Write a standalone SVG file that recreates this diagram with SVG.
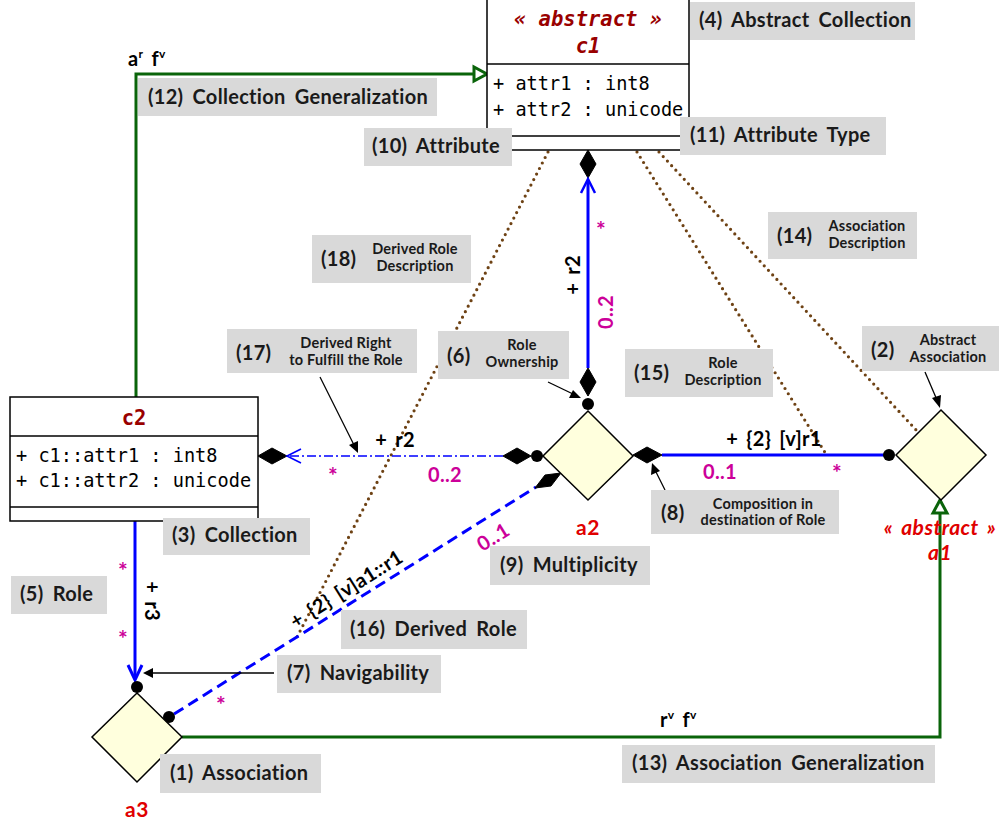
<svg xmlns="http://www.w3.org/2000/svg" width="1001" height="825" viewBox="0 0 1001 825">
<style>
.box{fill:#fff;stroke:#000;stroke-width:1.5}
.dia{fill:#ffffdd;stroke:#000;stroke-width:1.5}
.comp{fill:#000;stroke:#000;stroke-width:1}
.dot{fill:#000}
.blue{fill:none;stroke:#0000ff;stroke-width:3}
.green{fill:none;stroke:#0a640a;stroke-width:3}
.tri{fill:#fff;stroke:#0a640a;stroke-width:3}
.brown{fill:none;stroke:#6e4214;stroke-width:3.2;stroke-dasharray:0 6.2;stroke-linecap:round}
.ptr{fill:none;stroke:#000;stroke-width:1.3}
.cb{fill:#d9d9d9}
.lbl{font-family:Lato,"DejaVu Sans",sans-serif;font-weight:bold;font-size:20px;letter-spacing:0.3px;word-spacing:4px;fill:#1a1a1a}
.sm{font-family:Lato,"DejaVu Sans",sans-serif;font-weight:bold;font-size:14.5px;letter-spacing:0.2px;fill:#1a1a1a;text-anchor:middle}
.role{font-family:Lato,"DejaVu Sans",sans-serif;font-weight:bold;font-size:20px;letter-spacing:0.3px;word-spacing:3px;fill:#000}
.mul{font-family:Lato,"DejaVu Sans",sans-serif;font-weight:bold;font-size:20px;letter-spacing:0.3px;fill:#cc0099}
.ast{font-family:Lato,"DejaVu Sans",sans-serif;font-weight:bold;font-size:23px;fill:#cc0099;text-anchor:middle}
.mono{font-family:"DejaVu Sans Mono","Liberation Mono",monospace;font-size:18.6px;fill:#000}
.cname{font-family:"DejaVu Sans Mono","Liberation Mono",monospace;font-weight:bold;font-size:20.5px;fill:#990000;text-anchor:middle}
.aname{font-family:Lato,"DejaVu Sans",sans-serif;font-weight:bold;font-size:21px;letter-spacing:0.5px;word-spacing:3px;fill:#e00000;text-anchor:middle}
</style>

<!-- connectors -->
<g id="connectors">
  <!-- generalizations -->
  <path class="green" d="M136,397 V74 H474"/>
  <polygon class="tri" points="487,74 474,67 474,81"/>
  <path class="green" d="M182,737 H940 V513"/>
  <polygon class="tri" points="940,500 933,513 947,513"/>
  <text class="role" x="128" y="66">a<tspan font-size="12" dy="-8">r</tspan><tspan dy="8"> f</tspan><tspan font-size="12" dy="-8">v</tspan></text>
  <text class="role" x="660" y="727">r<tspan font-size="12" dy="-8">v</tspan><tspan dy="8"> f</tspan><tspan font-size="12" dy="-8">v</tspan></text>

  <!-- dotted descriptions -->
  <line class="brown" x1="548" y1="152" x2="297" y2="637"/>
  <line class="brown" x1="637" y1="152" x2="826" y2="454"/>
  <line class="brown" x1="659" y1="152" x2="918" y2="432"/>

  <!-- r2 vertical (a2 -> c1) -->
  <line class="blue" x1="588" y1="368" x2="588" y2="180"/>
  <polygon class="comp" points="588,150 596,164 588,178 580,164"/>
  <polyline fill="none" stroke="#0000ff" stroke-width="2.5" points="581,193 588,179 595,193"/>
  <polygon class="comp" points="588,368 596,382 588,396 580,382"/>
  <circle class="dot" cx="588" cy="404" r="6"/>
  <text class="ast" x="601" y="238">*</text>
  <text class="role" transform="translate(580,275) rotate(-90)" text-anchor="middle">+ r2</text>
  <text class="mul" transform="translate(613,312) rotate(-90)" text-anchor="middle">0..2</text>

  <!-- r1 horizontal (a2 -> a1) -->
  <line class="blue" x1="662" y1="455" x2="889" y2="455"/>
  <polygon class="comp" points="633,455 647,447 662,455 647,463"/>
  <circle class="dot" cx="889" cy="455" r="6"/>
  <text class="role" x="774" y="446" text-anchor="middle">+ {2} [v]r1</text>
  <text class="mul" x="720" y="479" text-anchor="middle">0..1</text>
  <text class="ast" x="837" y="481">*</text>

  <!-- derived right (dash-dot a2 -> c2) -->
  <line x1="503" y1="456" x2="288" y2="456" stroke="#0000ff" stroke-width="1.6" stroke-dasharray="9 3 2 3"/>
  <polygon class="comp" points="503,456 517,448 531,456 517,464"/>
  <circle class="dot" cx="537" cy="456" r="6"/>
  <polygon class="comp" points="258,456 272,448 287,456 272,464"/>
  <polyline fill="none" stroke="#0000ff" stroke-width="1.6" points="301,449 287,456 301,463"/>
  <text class="role" x="395" y="447" text-anchor="middle">+ r2</text>
  <text class="ast" x="333" y="484">*</text>
  <text class="mul" x="445" y="482" text-anchor="middle">0..2</text>

  <!-- derived role (dashed a3 -> a2) -->
  <line x1="174" y1="714" x2="536" y2="487" stroke="#0000ff" stroke-width="3" stroke-dasharray="11 6"/>
  <polygon class="comp" points="561,473 551,486 535,488 545,475"/>
  <circle class="dot" cx="169" cy="717" r="6"/>
  <text class="role" transform="translate(350,595) rotate(-32)" text-anchor="middle" font-size="19">+ {2} [v]a1::r1</text>
  <text class="mul" transform="translate(497,543) rotate(-32)" text-anchor="middle">0..1</text>
  <text class="ast" x="221" y="713">*</text>

  <!-- r3 vertical (c2 -> a3) -->
  <line class="blue" x1="135" y1="521" x2="135" y2="678"/>
  <polyline fill="none" stroke="#0000ff" stroke-width="3" points="128,665 135,680 142,665"/>
  <circle class="dot" cx="137" cy="687" r="6"/>
  <text class="ast" x="123" y="579">*</text>
  <text class="ast" x="123" y="647">*</text>
  <text class="role" transform="translate(145,601) rotate(90)" text-anchor="middle">+ r3</text>

  <!-- callout pointers -->
  <line class="ptr" x1="925" y1="372" x2="937" y2="400"/>
  <polygon class="dot" points="940,408 932,398 941,395"/>
  <line class="ptr" x1="665" y1="490" x2="655" y2="470"/>
  <polygon class="dot" points="652,463 651,475 660,471"/>
  <line class="ptr" x1="548" y1="382" x2="573" y2="394"/>
  <polygon class="dot" points="581,398 569,398 573,390"/>
  <line class="ptr" x1="320" y1="377" x2="354" y2="445"/>
  <polygon class="dot" points="358,453 349,445 358,441"/>
  <line class="ptr" x1="274" y1="673" x2="152" y2="673"/>
  <polygon class="dot" points="143,673 153,668 153,678"/>
</g>

<!-- nodes -->
<g id="c1">
  <rect class="box" x="487" y="-1" width="202" height="151"/>
  <line stroke="#000" stroke-width="1.5" x1="487" y1="64" x2="689" y2="64"/>
  <line stroke="#000" stroke-width="1.5" x1="487" y1="136" x2="689" y2="136"/>
  <text class="cname" x="588" y="26" font-style="italic">« abstract »</text>
  <text class="cname" x="588" y="53" font-style="italic">c1</text>
  <text class="mono" x="493" y="90">+ attr1 : int8</text>
  <text class="mono" x="493" y="116">+ attr2 : unicode</text>
</g>
<g id="c2">
  <rect class="box" x="10" y="397" width="248" height="124"/>
  <line stroke="#000" stroke-width="1.5" x1="10" y1="436" x2="258" y2="436"/>
  <line stroke="#000" stroke-width="1.5" x1="10" y1="507" x2="258" y2="507"/>
  <text class="cname" x="134" y="425">c2</text>
  <text class="mono" x="16" y="462">+ c1::attr1 : int8</text>
  <text class="mono" x="16" y="487">+ c1::attr2 : unicode</text>
</g>
<g id="a2">
  <polygon class="dia" points="588,411 633,456 588,500 543,456"/>
  <text class="aname" x="588" y="535">a2</text>
</g>
<g id="a1">
  <polygon class="dia" points="941,410 986,455 941,500 896,455"/>
  <text class="aname" x="940" y="535" font-style="italic">« abstract »</text>
  <text class="aname" x="940" y="560" font-style="italic">a1</text>
</g>
<g id="a3">
  <polygon class="dia" points="137,693 182,737 137,782 92,737"/>
  <text class="aname" x="137" y="817">a3</text>
</g>

<!-- callouts -->
<g id="callout4"><rect class="cb" x="690" y="2" width="225" height="38"/><text class="lbl" x="699" y="27">(4) Abstract Collection</text></g>
<g id="callout12"><rect class="cb" x="138" y="78" width="299" height="38"/><text class="lbl" x="148" y="104">(12) Collection Generalization</text></g>
<g id="callout10"><rect class="cb" x="364" y="128" width="148" height="38"/><text class="lbl" x="372" y="153">(10) Attribute</text></g>
<g id="callout11"><rect class="cb" x="680" y="117" width="206" height="38"/><text class="lbl" x="690" y="142">(11) Attribute Type</text></g>
<g id="callout14"><rect class="cb" x="768" y="212" width="149" height="47"/><text class="lbl" x="777" y="243">(14)</text><text class="sm" x="867" y="231">Association</text><text class="sm" x="867" y="248">Description</text></g>
<g id="callout18"><rect class="cb" x="312" y="235" width="159" height="48"/><text class="lbl" x="321" y="266">(18)</text><text class="sm" x="415" y="254">Derived Role</text><text class="sm" x="415" y="271">Description</text></g>
<g id="callout17"><rect class="cb" x="227" y="329" width="190" height="44"/><text class="lbl" x="236" y="360">(17)</text><text class="sm" x="346" y="348">Derived Right</text><text class="sm" x="346" y="365">to Fulfill the Role</text></g>
<g id="callout6"><rect class="cb" x="438" y="331" width="131" height="48"/><text class="lbl" x="447" y="363">(6)</text><text class="sm" x="522" y="350">Role</text><text class="sm" x="522" y="367">Ownership</text></g>
<g id="callout15"><rect class="cb" x="625" y="349" width="148" height="48"/><text class="lbl" x="634" y="380">(15)</text><text class="sm" x="723" y="368">Role</text><text class="sm" x="723" y="385">Description</text></g>
<g id="callout2"><rect class="cb" x="862" y="326" width="137" height="45"/><text class="lbl" x="871" y="357">(2)</text><text class="sm" x="948" y="345">Abstract</text><text class="sm" x="948" y="362">Association</text></g>
<g id="callout8"><rect class="cb" x="651" y="490" width="188" height="44"/><text class="lbl" x="661" y="520">(8)</text><text class="sm" x="763" y="509">Composition in</text><text class="sm" x="763" y="525">destination of Role</text></g>
<g id="callout3"><rect class="cb" x="163" y="518" width="147" height="37"/><text class="lbl" x="172" y="542">(3) Collection</text></g>
<g id="callout5"><rect class="cb" x="11" y="576" width="96" height="38"/><text class="lbl" x="20" y="601">(5) Role</text></g>
<g id="callout9"><rect class="cb" x="490" y="546" width="160" height="39"/><text class="lbl" x="500" y="572">(9) Multiplicity</text></g>
<g id="callout16"><rect class="cb" x="341" y="610" width="186" height="39"/><text class="lbl" x="350" y="636">(16) Derived Role</text></g>
<g id="callout7"><rect class="cb" x="277" y="655" width="164" height="38"/><text class="lbl" x="287" y="680">(7) Navigability</text></g>
<g id="callout1"><rect class="cb" x="160" y="754" width="161" height="39"/><text class="lbl" x="170" y="780">(1) Association</text></g>
<g id="callout13"><rect class="cb" x="622" y="745" width="313" height="38"/><text class="lbl" x="632" y="770">(13) Association Generalization</text></g>
</svg>
